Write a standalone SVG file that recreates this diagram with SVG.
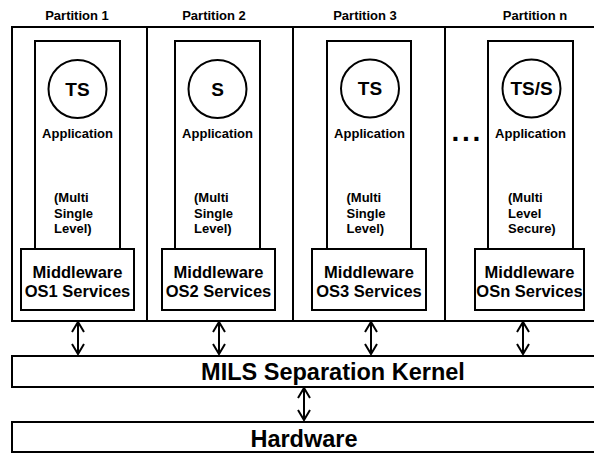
<svg xmlns="http://www.w3.org/2000/svg" width="594" height="453" viewBox="0 0 594 453">
  <style>
    .box { fill: #fff; stroke: #000; stroke-width: 2; }
    .line { stroke: #000; stroke-width: 2; fill: none; }
    .t { font-family: "Liberation Sans", Arial, sans-serif; font-weight: bold; fill: #000; }
    .lbl { font-size: 13px; text-anchor: middle; }
    .lvl { font-size: 13px; }
    .cls { font-size: 19px; text-anchor: middle; }
    .mw { font-size: 16.5px; text-anchor: middle; }
    .big { font-size: 23.5px; text-anchor: middle; }
    .arrow { stroke: #000; stroke-width: 2; fill: none; stroke-linejoin: miter; }
  </style>
  <defs>
    <!-- double-headed vertical arrow, tip to tip length given per use -->
    <path id="dbl34" d="M0,1 V33 M-6,11 L0,1 L6,11 M-6,23 L0,33 L6,23"/>
  </defs>

  <rect width="594" height="453" fill="#fff"/>

  <!-- partition frame -->
  <g id="partitions">
    <rect class="box" x="12" y="27" width="600" height="294"/>
    <line class="line" x1="147" y1="27" x2="147" y2="321"/>
    <line class="line" x1="293" y1="27" x2="293" y2="321"/>
    <line class="line" x1="445" y1="27" x2="445" y2="321"/>
    <text class="t lbl" x="77" y="20">Partition 1</text>
    <text class="t lbl" x="214" y="20">Partition 2</text>
    <text class="t lbl" x="365" y="20">Partition 3</text>
    <text class="t lbl" x="535" y="20">Partition n</text>
  </g>

  <g id="partition1">
    <rect class="box" x="35" y="41" width="85" height="208"/>
    <circle class="box" cx="77.5" cy="89" r="29"/>
    <text class="t cls" x="77.5" y="95.5">TS</text>
    <text class="t lbl" x="77.5" y="137.5">Application</text>
    <text class="t lvl" x="54" y="201.5">(Multi</text>
    <text class="t lvl" x="54" y="217.5">Single</text>
    <text class="t lvl" x="54" y="233">Level)</text>
    <rect class="box" x="21" y="249" width="113" height="61"/>
    <text class="t mw" x="77.5" y="277.5">Middleware</text>
    <text class="t mw" x="77.5" y="297">OS1 Services</text>
  </g>

  <g id="partition2">
    <rect class="box" x="175" y="41" width="85" height="208"/>
    <circle class="box" cx="217.5" cy="89" r="29"/>
    <text class="t cls" x="217.5" y="95.5">S</text>
    <text class="t lbl" x="217.5" y="137.5">Application</text>
    <text class="t lvl" x="194" y="201.5">(Multi</text>
    <text class="t lvl" x="194" y="217.5">Single</text>
    <text class="t lvl" x="194" y="233">Level)</text>
    <rect class="box" x="162" y="249" width="113" height="61"/>
    <text class="t mw" x="218.5" y="277.5">Middleware</text>
    <text class="t mw" x="218.5" y="297">OS2 Services</text>
  </g>

  <g id="partition3">
    <rect class="box" x="327" y="41" width="84" height="208"/>
    <circle class="box" cx="370" cy="88.5" r="29"/>
    <text class="t cls" x="370" y="95">TS</text>
    <text class="t lbl" x="369.5" y="137.5">Application</text>
    <text class="t lvl" x="346.5" y="201.5">(Multi</text>
    <text class="t lvl" x="346.5" y="217.5">Single</text>
    <text class="t lvl" x="346.5" y="233">Level)</text>
    <rect class="box" x="312" y="249" width="114" height="61"/>
    <text class="t mw" x="369" y="277.5">Middleware</text>
    <text class="t mw" x="369" y="297">OS3 Services</text>
  </g>

  <g id="partitionN">
    <text class="t" x="451.5" y="140.7" font-size="28" letter-spacing="2.7">...</text>
    <rect class="box" x="488" y="41" width="85" height="208"/>
    <circle class="box" cx="531.5" cy="88.5" r="29"/>
    <text class="t cls" x="531.5" y="95">TS/S</text>
    <text class="t lbl" x="530.5" y="137.5">Application</text>
    <text class="t lvl" x="508" y="201.5">(Multi</text>
    <text class="t lvl" x="508" y="217.5">Level</text>
    <text class="t lvl" x="508" y="233">Secure)</text>
    <rect class="box" x="475" y="249" width="109" height="61"/>
    <text class="t mw" x="529.5" y="277.5">Middleware</text>
    <text class="t mw" x="529.5" y="297">OSn Services</text>
  </g>

  <g id="kernel">
    <rect class="box" x="12" y="356" width="600" height="31"/>
    <text class="t big" x="333" y="380">MILS Separation Kernel</text>
  </g>

  <g id="hardware">
    <rect class="box" x="12" y="422" width="600" height="30"/>
    <text class="t big" x="304" y="447">Hardware</text>
  </g>

  <!-- connectors -->
  <g id="connectors" class="arrow">
    <use href="#dbl34" x="78" y="321"/>
    <use href="#dbl34" x="219" y="321"/>
    <use href="#dbl34" x="371" y="321"/>
    <use href="#dbl34" x="523" y="321"/>
    <use href="#dbl34" x="304" y="387"/>
  </g>
</svg>
